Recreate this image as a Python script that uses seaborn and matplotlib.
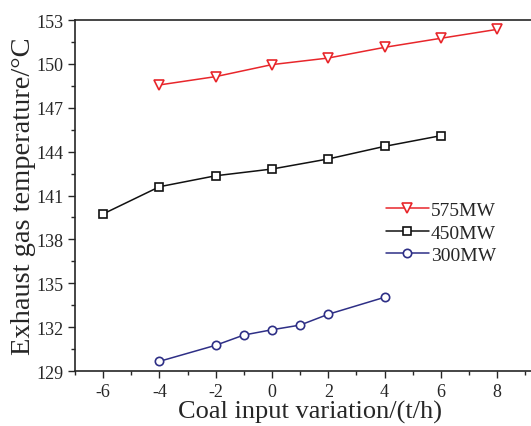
import matplotlib
matplotlib.use("Agg")
import matplotlib.pyplot as plt
from matplotlib.ticker import MultipleLocator
import seaborn as sns
import pandas as pd

# data
x_575 = [-4, -2, 0, 2, 4, 6, 8]
y_575 = [148.56, 149.13, 149.95, 150.40, 151.13, 151.75, 152.36]
x_450 = [-6, -4, -2, 0, 2, 4, 6]
y_450 = [139.74, 141.60, 142.35, 142.81, 143.50, 144.36, 145.09]
x_300 = [-4, -2, -1, 0, 1, 2, 4]
y_300 = [129.66, 130.76, 131.46, 131.82, 132.14, 132.88, 134.04]

series = [
    ("575MW", x_575, y_575, "#e8262b", "v", 6.5),
    ("450MW", x_450, y_450, "#111111", "s", 5.5),
    ("300MW", x_300, y_300, "#2e2f86", "o", 6),
]

sns.set_style("ticks")
plt.rcParams['font.family'] = ['Liberation Serif', 'DejaVu Serif']
plt.rcParams['axes.unicode_minus'] = False

fig = plt.figure(figsize=(5.31, 4.27), dpi=100)
ax = fig.add_axes([75 / 531, 55 / 427, 470 / 531, 351 / 427])

for name, xs, ys, col, mk, ms in series:
    df = pd.DataFrame({"x": xs, "y": ys})
    sns.lineplot(data=df, x="x", y="y", ax=ax, color=col, marker=mk,
                 markersize=ms, markerfacecolor="white", markeredgecolor=col,
                 markeredgewidth=1.2, linewidth=1.1, label=name)

ax.set_xlim(-7, 9.7)
ax.set_ylim(129, 153)
ax.xaxis.set_major_locator(MultipleLocator(2))
ax.xaxis.set_minor_locator(MultipleLocator(1))
ax.yaxis.set_major_locator(MultipleLocator(3))
ax.yaxis.set_minor_locator(MultipleLocator(1.5))
ax.tick_params(which="major", direction="out", length=5, width=1, labelsize=13)
ax.tick_params(which="minor", direction="out", length=3, width=1)
for s in ax.spines.values():
    s.set_linewidth(1.2)
    s.set_visible(True)

ax.set_xlabel("Coal input variation/(t/h)", fontsize=19, labelpad=0)
ax.set_ylabel("Exhaust gas temperature/°C", fontsize=20.5, labelpad=0)

leg = ax.legend(loc="upper left", bbox_to_anchor=(0.645, 0.505), frameon=False,
                fontsize=14, handlelength=2.2, handletextpad=0.1,
                labelspacing=0.25, borderaxespad=0)

fig.savefig("out.png", dpi=100)
